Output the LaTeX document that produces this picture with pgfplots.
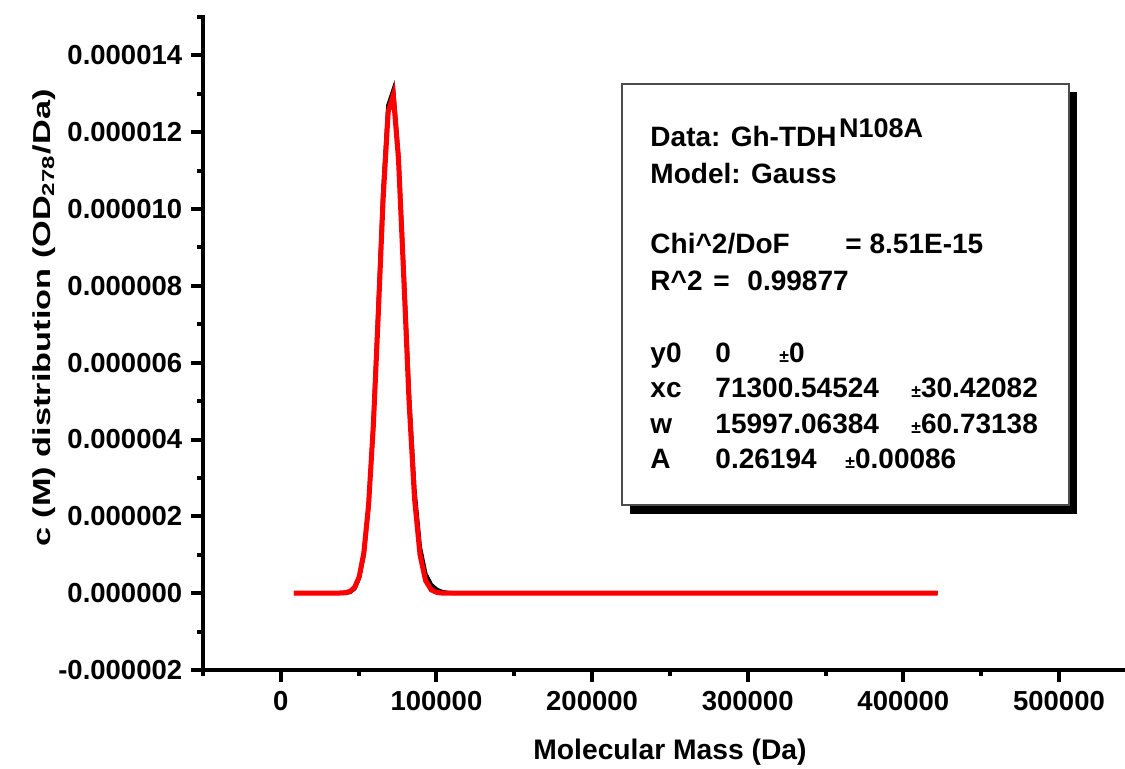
\documentclass[border=0pt]{standalone}
\usepackage{fontspec}
\setmainfont{Liberation Sans}
\usepackage{graphicx}
\usepackage{pgfplots}
\pgfplotsset{compat=1.18}
\newcommand{\boxfont}{\fontsize{11.2}{13}\selectfont\bfseries}
\newcommand{\pmsmall}{{\fontsize{7}{8}\selectfont\textpm}}
\begin{document}
\begin{tikzpicture}
\useasboundingbox (0,0) rectangle (450pt,307.6pt);
\begin{axis}[
  at={(81.2pt,39.6pt)}, anchor=south west,
  scale only axis, width=370.4pt, height=261.2pt,
  xmin=-50000, xmax=545000, ymin=-2e-6, ymax=1.5e-5,
  axis x line*=bottom, axis y line*=left,
  axis line style={line width=1.8pt, -, line cap=rect},
  xtick={0,100000,200000,300000,400000,500000},
  xticklabels={0,100000,200000,300000,400000,500000},
  minor xtick={-50000,50000,150000,250000,350000,450000},
  ytick={-2e-6,0,2e-6,4e-6,6e-6,8e-6,1e-5,1.2e-5,1.4e-5},
  yticklabels={-0.000002,0.000000,0.000002,0.000004,0.000006,0.000008,0.000010,0.000012,0.000014},
  minor ytick={-1e-6,1e-6,3e-6,5e-6,7e-6,9e-6,1.1e-5,1.3e-5,1.5e-5},
  tick align=outside,
  major tick length=4.8pt, minor tick length=2.4pt,
  every tick/.style={black, line width=1.6pt},
  tick label style={font=\fontsize{11}{13}\selectfont\bfseries},
  scaled ticks=false,
]
% measured data (black)
\addplot[black, line width=1.6pt] coordinates {
(8400,0) (31291,0) (36433,0) (41830,0) (44619,3e-8) (47469,1.2e-7) (50375,4.0e-7)
(53340,1.0e-6) (56361,2.25e-6) (59437,4.4e-6) (62566,7.4e-6) (65748,1.05e-5)
(68982,1.27e-5) (72268,1.31e-5) (75606,1.14e-5) (78992,8.4e-6) (82427,5.2e-6)
(85911,2.7e-6) (89443,1.2e-6) (93020,5.0e-7) (96647,2.2e-7) (100330,9e-8)
(104035,3e-8) (107796,1e-8) (111600,0)
(150000,0) (200000,0) (250000,0) (300000,0) (350000,0) (400000,0) (422000,0)
};
% Gauss fit (red)
\addplot[red, line width=2pt] coordinates {
(8400,0) (31291,0) (36433,0) (41830,1.47e-8) (44619,5.01e-8) (47469,1.543e-7)
(50375,4.264e-7) (53340,1.050e-6) (56361,2.2835e-6) (59437,4.349e-6)
(62566,7.198e-6) (65748,1.0266e-5) (68982,1.2528e-5) (72268,1.2970e-5)
(75606,1.1303e-5) (78992,8.228e-6) (82427,4.965e-6) (85911,2.464e-6)
(89443,9.97e-7) (93020,3.27e-7) (96647,8.62e-8) (100330,1.8e-8) (104035,0)
(107796,0) (150000,0) (200000,0) (250000,0) (300000,0) (350000,0) (400000,0) (422000,0)
};
\end{axis}
\begin{scope}[x=0.4pt,y=0.4pt]
\fill[black] (630,{769-92}) rectangle (1077,{769-514});
\draw[fill=white, draw=black!70, line width=0.5pt] (622,{769-84}) rectangle (1069,{769-505});
\node[anchor=base west, inner sep=0pt, font=\boxfont] at (650,{769-147}) {Data: Gh-TDH\hspace{1pt}\raisebox{3.6pt}{\fontsize{10.8}{11}\selectfont N108A}};
\node[anchor=base west, inner sep=0pt, font=\boxfont] at (650,{769-184}) {Model: Gauss};
\node[anchor=base west, inner sep=0pt, font=\boxfont] at (650,{769-254}) {Chi\textasciicircum 2/DoF};
\node[anchor=base west, inner sep=0pt, font=\boxfont] at (845,{769-254}) {= 8.51E-15};
\node[anchor=base west, inner sep=0pt, font=\boxfont] at (650,{769-291}) {R\textasciicircum 2};
\node[anchor=base west, inner sep=0pt, font=\boxfont] at (713,{769-291}) {=};
\node[anchor=base west, inner sep=0pt, font=\boxfont] at (747,{769-291}) {0.99877};
\node[anchor=base west, inner sep=0pt, font=\boxfont] at (650,{769-363}) {y0};
\node[anchor=base west, inner sep=0pt, font=\boxfont] at (715,{769-363}) {0};
\node[anchor=base west, inner sep=0pt, font=\boxfont] at (779,{769-363}) {\pmsmall 0};
\node[anchor=base west, inner sep=0pt, font=\boxfont] at (650,{769-398}) {xc};
\node[anchor=base west, inner sep=0pt, font=\boxfont] at (715,{769-398}) {71300.54524};
\node[anchor=base west, inner sep=0pt, font=\boxfont] at (911,{769-398}) {\pmsmall 30.42082};
\node[anchor=base west, inner sep=0pt, font=\boxfont] at (650,{769-434}) {w};
\node[anchor=base west, inner sep=0pt, font=\boxfont] at (715,{769-434}) {15997.06384};
\node[anchor=base west, inner sep=0pt, font=\boxfont] at (911,{769-434}) {\pmsmall 60.73138};
\node[anchor=base west, inner sep=0pt, font=\boxfont] at (650,{769-469}) {A};
\node[anchor=base west, inner sep=0pt, font=\boxfont] at (715,{769-469}) {0.26194};
\node[anchor=base west, inner sep=0pt, font=\boxfont] at (845,{769-469}) {\pmsmall 0.00086};
% axis titles
\node[anchor=base, inner sep=0pt, font=\fontsize{11.3}{13}\selectfont\bfseries] at (670,{769-760}) {Molecular Mass (Da)};
\node[rotate=90, inner sep=0pt, font=\fontsize{9.8}{12}\selectfont\bfseries] at (44,{769-318}) {\scalebox{1.4}[1]{c (M) distribution (OD\textsubscript{278}/Da)}};
\end{scope}
\end{tikzpicture}
\end{document}
